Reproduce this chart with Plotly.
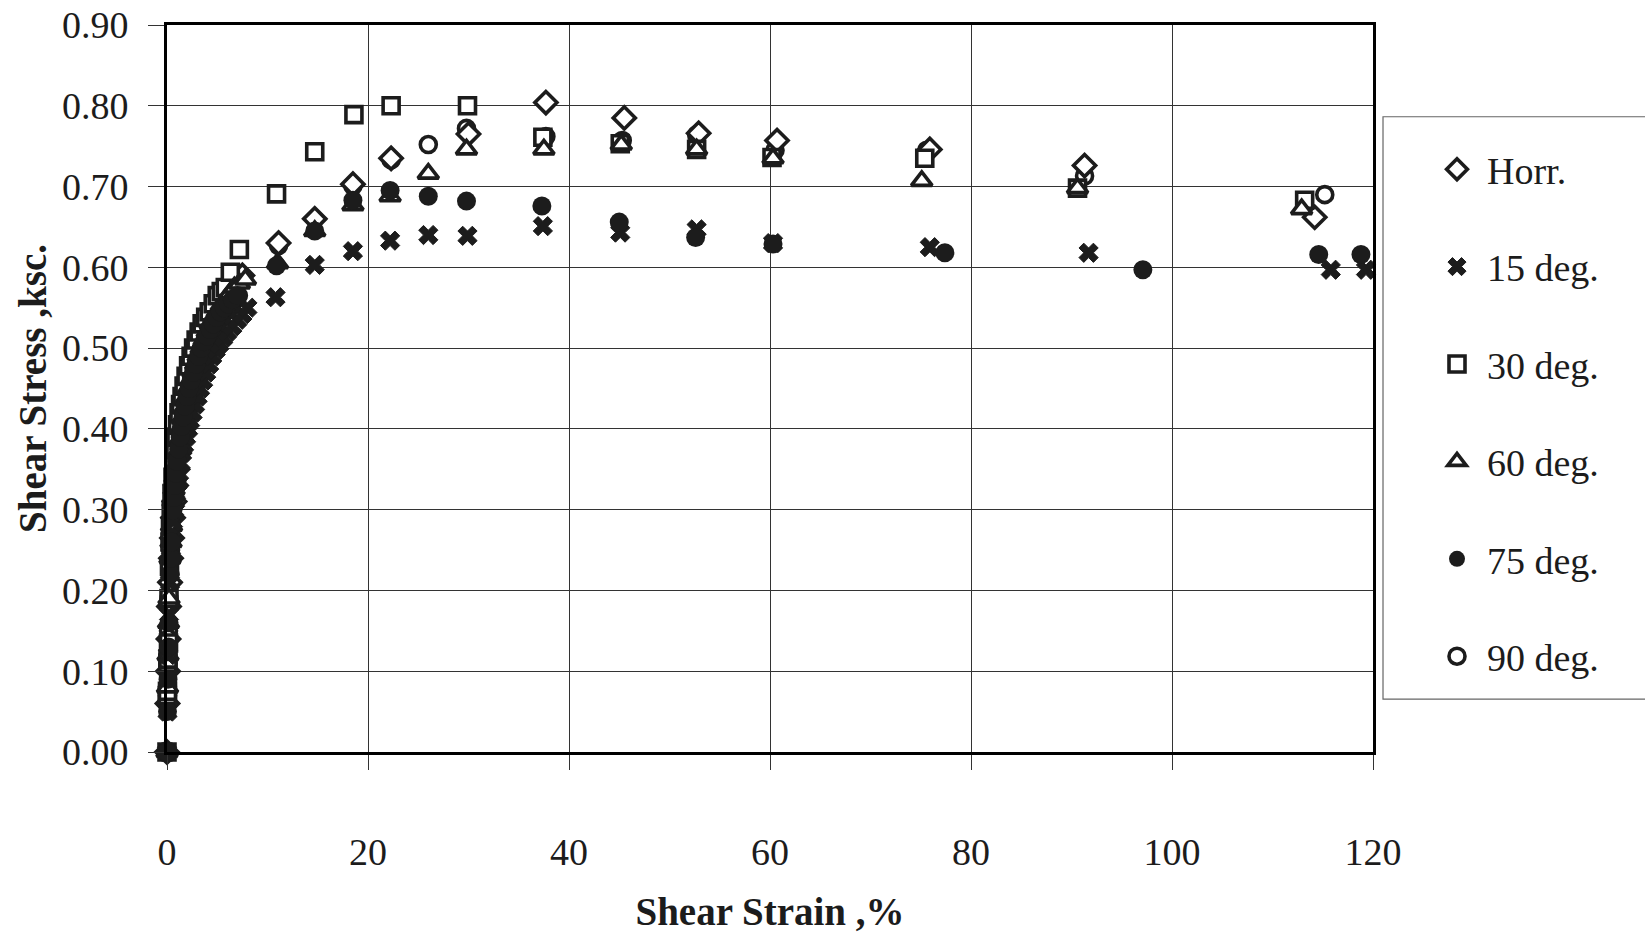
import plotly.graph_objects as go

# Shear strain (%) and shear stress (ksc.) for each specimen orientation
horr_strain = [0, 0.05, 0.1, 0.15, 0.2, 0.3, 0.4, 0.5, 0.6, 0.75, 0.9, 1.05, 1.2, 1.4, 1.6, 1.8, 2.0, 2.25, 2.5,
               2.75, 3.0, 3.25, 3.5, 3.8, 4.1, 4.45, 4.8, 5.15, 5.5, 5.9, 6.3, 6.9, 7.5,
               11.1, 14.7, 18.5, 22.3, 30.0, 37.7, 45.5, 52.9, 60.7, 75.9, 91.3, 114.2]
horr_stress = [0, 0.06, 0.10, 0.14, 0.18, 0.21, 0.24, 0.265, 0.29, 0.31, 0.33, 0.35, 0.37, 0.385, 0.40, 0.415, 0.43, 0.44, 0.45,
               0.46, 0.47, 0.48, 0.49, 0.50, 0.51, 0.52, 0.53, 0.54, 0.55, 0.56, 0.57, 0.58, 0.59,
               0.630, 0.660, 0.703, 0.735, 0.765, 0.804, 0.785, 0.766, 0.757, 0.746, 0.726, 0.662]

deg15_strain = [0, 0.05, 0.1, 0.2, 0.3, 0.4, 0.5, 0.6, 0.7, 0.8, 0.9, 1.05, 1.2, 1.35, 1.5, 1.7, 1.9, 2.1, 2.3, 2.55,
                2.8, 3.05, 3.3, 3.6, 3.9, 4.2, 4.5, 4.85, 5.2, 5.6, 6.0, 6.5, 7.0, 7.5, 8.0,
                10.8, 14.7, 18.5, 22.2, 26.0, 29.9, 37.4, 45.1, 52.7, 60.3, 75.9, 91.7, 115.8, 119.3]
deg15_stress = [0, 0.05, 0.12, 0.17, 0.21, 0.24, 0.27, 0.285, 0.30, 0.31, 0.32, 0.333, 0.345, 0.358, 0.37, 0.38, 0.39, 0.40, 0.41, 0.42,
                0.43, 0.44, 0.45, 0.46, 0.47, 0.48, 0.49, 0.498, 0.505, 0.513, 0.52, 0.527, 0.535, 0.542, 0.55,
                0.563, 0.603, 0.620, 0.633, 0.640, 0.639, 0.651, 0.643, 0.647, 0.630, 0.625, 0.618, 0.597, 0.597]

deg30_strain = [0, 0.03, 0.05, 0.08, 0.1, 0.15, 0.2, 0.25, 0.3, 0.35, 0.42, 0.5, 0.6, 0.7, 0.8, 0.9, 1.05, 1.2, 1.35, 1.5,
                1.7, 1.9, 2.15, 2.4, 2.65, 2.9, 3.2, 3.5, 3.85, 4.2, 4.6, 5.0, 5.4, 5.8, 6.3, 7.2,
                10.9, 14.7, 18.6, 22.3, 29.9, 37.4, 45.1, 52.7, 60.2, 75.4, 90.6, 113.2]
deg30_stress = [0, 0.07, 0.075, 0.11, 0.115, 0.135, 0.19, 0.23, 0.26, 0.28, 0.30, 0.32, 0.34, 0.36, 0.375, 0.39, 0.405, 0.42, 0.43, 0.44,
                0.453, 0.465, 0.478, 0.49, 0.50, 0.51, 0.52, 0.53, 0.538, 0.545, 0.555, 0.565, 0.57, 0.575, 0.594, 0.622,
                0.691, 0.743, 0.789, 0.800, 0.800, 0.761, 0.753, 0.746, 0.736, 0.735, 0.698, 0.683]

deg60_strain = [0, 0.05, 0.1, 0.15, 0.2, 0.3, 0.4, 0.45, 0.6, 0.7, 0.8, 0.9, 1.0, 1.15, 1.3, 1.5, 1.7, 1.9, 2.1, 2.35,
                2.6, 2.85, 3.1, 3.4, 3.7, 4.0, 4.3, 4.65, 5.0, 5.4, 5.8, 6.25, 6.7, 7.2, 7.8,
                11.0, 14.7, 18.5, 22.2, 26.0, 29.8, 37.5, 45.2, 52.7, 60.3, 75.1, 90.6, 112.9]
deg60_stress = [0, 0.08, 0.12, 0.16, 0.19, 0.24, 0.26, 0.28, 0.31, 0.325, 0.34, 0.355, 0.37, 0.385, 0.40, 0.413, 0.425, 0.438, 0.45, 0.46,
                0.47, 0.48, 0.49, 0.50, 0.51, 0.52, 0.53, 0.538, 0.545, 0.553, 0.56, 0.568, 0.575, 0.58, 0.585,
                0.605, 0.645, 0.677, 0.688, 0.716, 0.746, 0.746, 0.752, 0.746, 0.735, 0.707, 0.698, 0.672]

deg75_strain = [0, 0.05, 0.1, 0.15, 0.2, 0.3, 0.4, 0.45, 0.6, 0.7, 0.8, 0.9, 1.0, 1.15, 1.3, 1.45, 1.6, 1.8, 2.0, 2.2,
                2.4, 2.65, 2.9, 3.15, 3.4, 3.7, 4.0, 4.3, 4.6, 4.95, 5.3, 5.7, 6.1, 6.5, 7.0,
                10.9, 14.7, 18.5, 22.2, 26.0, 29.8, 37.3, 45.0, 52.6, 60.3, 77.4, 97.1, 114.6, 118.8]
deg75_stress = [0, 0.05, 0.09, 0.13, 0.16, 0.22, 0.24, 0.26, 0.30, 0.315, 0.33, 0.345, 0.36, 0.375, 0.39, 0.403, 0.415, 0.428, 0.44, 0.45,
                0.46, 0.47, 0.48, 0.49, 0.50, 0.508, 0.515, 0.523, 0.53, 0.538, 0.545, 0.55, 0.555, 0.56, 0.565,
                0.602, 0.645, 0.683, 0.695, 0.688, 0.682, 0.676, 0.656, 0.637, 0.629, 0.618, 0.597, 0.616, 0.616]

deg90_strain = [0, 0.05, 0.1, 0.15, 0.2, 0.28, 0.35, 0.5, 0.6, 0.7, 0.8, 0.9, 1.05, 1.2, 1.35, 1.5, 1.7, 1.9, 2.1, 2.3,
                2.55, 2.8, 3.05, 3.3, 3.6, 3.9, 4.25, 4.6, 5.0, 5.4, 5.8, 6.2, 6.6, 7.1,
                11.1, 18.5, 22.3, 26.0, 29.8, 37.7, 45.3, 52.7, 60.5, 75.6, 91.3, 115.2]
deg90_stress = [0, 0.07, 0.11, 0.15, 0.19, 0.22, 0.25, 0.29, 0.31, 0.325, 0.34, 0.355, 0.37, 0.385, 0.398, 0.41, 0.423, 0.435, 0.445, 0.455,
                0.465, 0.475, 0.485, 0.495, 0.503, 0.51, 0.518, 0.525, 0.533, 0.54, 0.545, 0.55, 0.557, 0.565,
                0.627, 0.701, 0.733, 0.752, 0.772, 0.762, 0.757, 0.764, 0.745, 0.745, 0.713, 0.690]

series_names = ["Horr.", "15 deg.", "30 deg.", "60 deg.", "75 deg.", "90 deg."]
x_ticks = [0, 20, 40, 60, 80, 100, 120]
y_ticks = [0.0, 0.1, 0.2, 0.3, 0.4, 0.5, 0.6, 0.7, 0.8, 0.9]

INK = "#1c1c1c"
SERIF = "Liberation Serif, Times New Roman, serif"

# Hollow markers are white-filled shapes with a heavy black outline
styles = [
    dict(symbol="diamond", size=17, color="white", line=dict(width=3.6, color=INK)),
    dict(symbol="x", size=17, color=INK, line=dict(width=1, color=INK)),
    dict(symbol="square", size=16, color="white", line=dict(width=3.6, color=INK)),
    dict(symbol="triangle-up", size=18, color="white", line=dict(width=3.6, color=INK)),
    dict(symbol="circle", size=19, color=INK, line=dict(width=0)),
    dict(symbol="circle", size=16, color="white", line=dict(width=3.6, color=INK)),
]
data = [
    (horr_strain, horr_stress),
    (deg15_strain, deg15_stress),
    (deg30_strain, deg30_stress),
    (deg60_strain, deg60_stress),
    (deg75_strain, deg75_stress),
    (deg90_strain, deg90_stress),
]

# Solid circles are painted last so they sit on top; legendrank keeps the legend order
draw_order = [5, 0, 2, 3, 1, 4]

fig = go.Figure()
for i in draw_order:
    xs, ys = data[i]
    fig.add_trace(go.Scatter(
        x=xs, y=ys, mode="markers", name=series_names[i], legendgroup=series_names[i],
        legendrank=i + 1, marker=styles[i], cliponaxis=False,
    ))

# Legend frame (legend itself is borderless, sitting inside this box)
fig.add_shape(type="rect", xref="paper", yref="paper",
              x0=1.0083, x1=1.235, y0=0.0727, y1=0.8738,
              line=dict(color="#666", width=1.2), fillcolor="rgba(0,0,0,0)")

fig.update_layout(
    width=1645, height=933,
    margin=dict(l=167, r=272, t=25, b=181, autoexpand=False),
    paper_bgcolor="white", plot_bgcolor="white",
    font=dict(family=SERIF, size=38, color=INK),
    showlegend=True,
    legend=dict(
        xref="container", yref="container",
        x=1427 / 1645, y=1 - 138 / 933, xanchor="left", yanchor="top",
        font=dict(family=SERIF, size=38, color=INK),
        bgcolor="rgba(0,0,0,0)", borderwidth=0, traceorder="grouped",
        tracegroupgap=45, itemwidth=50, maxheight=900,
    ),
    xaxis=dict(
        range=[0, 120], tickmode="array", tickvals=x_ticks,
        ticktext=[str(v) for v in x_ticks],
        showgrid=True, gridcolor="#333", gridwidth=1,
        showline=True, linecolor="black", linewidth=3, mirror=True,
        ticks="outside", ticklen=15, tickcolor="#333", tickwidth=1,
        ticklabelstandoff=49, zeroline=False,
        title=dict(text="<b>Shear Strain ,%</b>", font=dict(family=SERIF, size=39, color=INK), standoff=27),
    ),
    yaxis=dict(
        range=[0, 0.9], tickmode="array", tickvals=y_ticks,
        ticktext=[f"{v:.2f}" for v in y_ticks],
        showgrid=True, gridcolor="#333", gridwidth=1,
        showline=True, linecolor="black", linewidth=3, mirror=True,
        ticks="outside", ticklen=16, tickcolor="#333", tickwidth=1,
        ticklabelstandoff=12, zeroline=False,
        title=dict(text="<b>Shear Stress ,ksc.</b>", font=dict(family=SERIF, size=39, color=INK), standoff=4),
    ),
)

fig.write_html("out.html")
